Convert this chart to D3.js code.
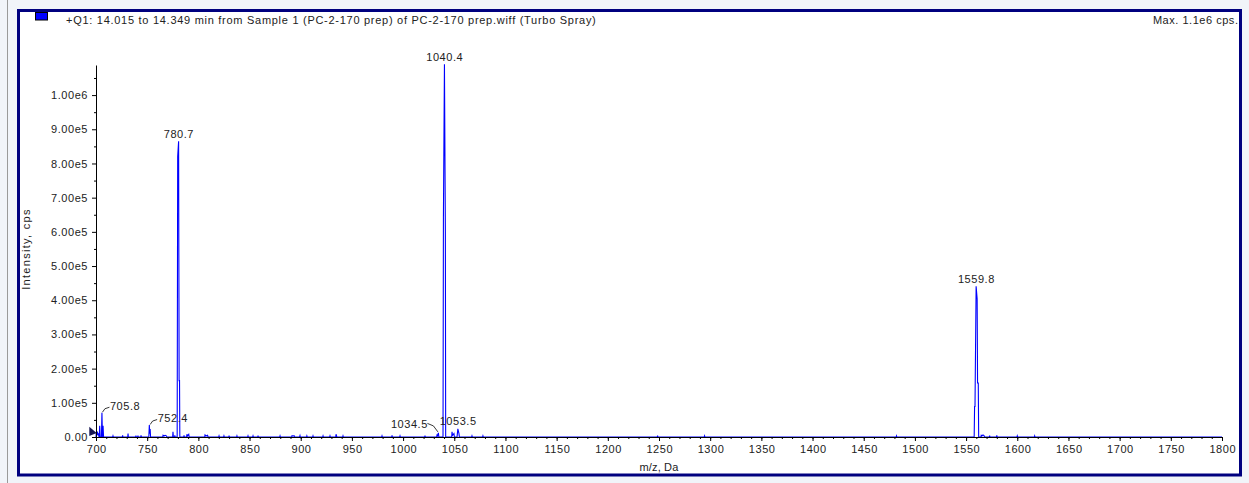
<!DOCTYPE html>
<html><head><meta charset="utf-8">
<script src="https://cdn.jsdelivr.net/npm/d3@7"></script>
<style>
html,body{margin:0;padding:0;background:#f1f4f9;}
svg{display:block;}
text{font-family:"Liberation Sans",Arial,sans-serif;fill:#222;}
</style></head><body>
<svg id="c" width="1249" height="483"></svg>
<script>
// ---------- data ----------
const titleText = "+Q1: 14.015 to 14.349 min from Sample 1 (PC-2-170 prep) of PC-2-170 prep.wiff (Turbo Spray)";
const maxText = "Max. 1.1e6 cps.";
const xTitle = "m/z, Da";
const yTitle = "Intensity, cps";
const xDomain = [700, 1800];
const yDomain = [0, 1088000];
const xTicks = [700,750,800,850,900,950,1000,1050,1100,1150,1200,1250,1300,1350,1400,1450,1500,1550,1600,1650,1700,1750,1800];
const yTicks = [0,100000,200000,300000,400000,500000,600000,700000,800000,900000,1000000];
const yTickLabels = ["0.00","1.00e5","2.00e5","3.00e5","4.00e5","5.00e5","6.00e5","7.00e5","8.00e5","9.00e5","1.00e6"];
const profileMz = [
 700,700.3,700.8,701.3,701.9,702.4,702.9,
 703.2,703.6,704.1,705.3,705.8,706.3,706.5,706.9,707.4,
 716.3,716.6,716.9,725.7,726.0,726.3,731.0,731.3,731.6,738.7,739.0,739.3,740.7,741.0,741.3,743.7,744.0,744.3,
 751.6,752.1,752.5,752.9,753.3,
 765.2,765.5,766.5,767.5,768.5,769.4,774.9,775.2,775.6,776.7,777.0,777.3,
 779.3,779.8,780.7,781.2,781.6,781.9,
 785.7,786.0,786.3,788.5,788.8,789.3,790.6,791.0,806.2,806.5,807.5,809.0,809.4,
 819.9,820.2,820.5,824.7,825.0,825.3,829.7,830.0,830.3,837.4,837.7,838.0,848.2,848.5,848.8,
 853.1,853.4,853.7,858.0,858.3,858.6,879.5,879.8,880.1,891.2,891.5,892.5,893.5,893.9,898.9,899.3,899.6,
 905.7,906.0,906.3,911.7,912.0,912.3,921.5,921.8,922.1,928.3,928.6,928.9,934.2,934.5,935.0,935.3,941.0,941.3,941.6,
 979.1,979.4,979.7,988.9,989.2,989.5,996.7,997.0,997.3,1021.1,1021.4,1021.7,
 1032.8,1033.1,1033.5,1034.5,1034.9,
 1039.0,1039.4,1040.4,1041.3,1041.6,
 1047.5,1047.8,1048.3,1049.7,1050.1,1052.7,1053.1,1053.5,1054.6,1055.0,
 1067.0,1067.3,1067.6,1077.7,1078.0,1078.3,
 1248.3,1248.6,1248.9,1294.2,1294.5,1294.8,1481.7,1482.0,1482.3,
 1557.9,1558.3,1558.7,1559.8,1560.8,1561.2,1561.9,1562.3,
 1564.5,1564.8,1565.5,1566.5,1567.5,1568.0,1572.7,1573.0,1573.3,1579.7,1580.0,1580.3,
 1599.7,1600.0,1600.3,1616.7,1617.0,1617.3,1800
];
const profileIntensity = [
 0,14000,6000,16000,5000,11000,0,
 0,33000,0,0,71000,0,0,33000,0,
 0,3000,0,0,5000,0,0,10000,0,0,4000,0,0,4000,0,0,5000,0,
 0,35000,10000,23000,0,
 0,5000,3000,5000,4000,0,0,15000,0,0,5000,0,
 0,820000,865000,165000,165000,0,
 0,5000,0,0,8000,3000,8000,0,0,6000,3000,5000,0,
 0,3000,0,0,3000,0,0,4000,0,0,3000,0,0,3000,0,
 0,3000,0,0,4000,0,0,3000,0,0,4000,3000,4000,0,0,4000,0,
 0,3000,0,0,3000,0,0,3000,0,0,3000,0,0,8000,3000,0,0,3000,0,
 0,3000,0,0,5000,0,0,3000,0,0,4000,0,
 0,5000,3000,12000,0,
 0,643000,1090000,600000,0,
 0,15000,5000,10000,0,0,12000,24000,10000,0,
 0,3000,0,0,3000,0,
 0,4000,0,0,3000,0,0,3000,0,
 0,89000,89000,441000,404000,158000,158000,0,
 0,5000,3000,6000,4000,0,0,4000,0,0,5000,0,
 0,3000,0,0,3000,0,0
];
const peakLabelMz = [705.8, 752.4, 780.7, 1034.5, 1040.4, 1053.5, 1559.8];
const peakLabelIntensity = [71000, 35000, 865000, 12000, 1090000, 24000, 441000];

// ---------- layout ----------
const svg = d3.select("#c");
const W = 1249, H = 483;
const plot = {left: 96, right: 1222, top: 65, bottom: 437};
const x = d3.scaleLinear().domain(xDomain).range([plot.left, plot.right]);
const y = d3.scaleLinear().domain(yDomain).range([plot.bottom, plot.top]);
const numSpacing = 0.55;

// outer frame
svg.append("line").attr("x1",7.5).attr("x2",7.5).attr("y1",0).attr("y2",H)
  .attr("stroke","#9a9a9a").attr("stroke-width",1);
svg.append("rect").attr("x",18.5).attr("y",10.5).attr("width",1222).attr("height",464.5)
  .attr("fill","#ffffff").attr("stroke","#00007f").attr("stroke-width",3);

// header
svg.append("rect").attr("x",35.5).attr("y",12.5).attr("width",12).attr("height",7.5)
  .attr("fill","#0000ff").attr("stroke","#000").attr("stroke-width",1);
svg.append("text").attr("x",66).attr("y",24).attr("font-size",11)
  .attr("letter-spacing",0.72).text(titleText);
svg.append("text").attr("x",1238.5).attr("y",24).attr("font-size",11).attr("text-anchor","end")
  .attr("letter-spacing",0.53).text(maxText);

// data profile
const pts = profileMz.map((m,i)=>[m, profileIntensity[i]]);
const line = d3.line().x(d=>x(d[0])).y(d=>y(d[1]));
svg.append("path").datum(pts).attr("d",line).attr("fill","none")
  .attr("stroke","#0000ff").attr("stroke-width",1.1).attr("stroke-linejoin","miter");

// off-scale marker at the left edge
svg.append("path").attr("d",`M${x(700)-6.7},${y(0)-10.3}L${x(700)-6.7},${y(0)-1}L${x(700)+0.7},${y(0)-4}Z`)
  .attr("fill","#141450");

// axes
const xAxis = svg.append("g").attr("transform",`translate(0,${plot.bottom})`)
  .call(d3.axisBottom(x).tickValues(xTicks).tickSize(4).tickSizeOuter(0).tickPadding(4).tickFormat(d3.format("d")));
const xMinor = svg.append("g").attr("transform",`translate(0,${plot.bottom})`)
  .call(d3.axisBottom(x).tickValues(d3.range(700,1801,10)).tickSize(2).tickFormat(""));
xMinor.select(".domain").remove();
const yAxis = svg.append("g").attr("transform",`translate(${plot.left},0)`)
  .call(d3.axisLeft(y).tickValues(yTicks).tickSize(4).tickSizeOuter(0).tickPadding(4)
    .tickFormat((d,i)=>yTickLabels[i]));
const yMinor = svg.append("g").attr("transform",`translate(${plot.left},0)`)
  .call(d3.axisLeft(y).tickValues(d3.range(50000,1088000,100000)).tickSize(2).tickFormat(""));
yMinor.select(".domain").remove();
svg.selectAll(".tick line").attr("stroke","#000");
svg.selectAll(".domain").attr("stroke","#000");
svg.selectAll(".tick text").attr("font-size",11).attr("font-family","'Liberation Sans',Arial,sans-serif")
  .attr("fill","#222").attr("letter-spacing",numSpacing);
// compensate trailing letter-spacing on centred x labels
xAxis.selectAll(".tick text").attr("dx", numSpacing/2);

// axis titles
svg.append("text").attr("x",(plot.left+plot.right)/2).attr("y",471).attr("font-size",11)
  .attr("text-anchor","middle").attr("letter-spacing",0.15).text(xTitle);
svg.append("text").attr("transform",`translate(30,249) rotate(-90)`)
  .attr("font-size",11).attr("text-anchor","middle").attr("letter-spacing",1.3).text(yTitle);

// peak labels
const placement = {"705.8":"right","752.4":"right","1034.5":"left"};
peakLabelMz.forEach((m,i)=>{
  const px = x(m), py = y(peakLabelIntensity[i]);
  const lab = m.toFixed(1);
  const p = placement[lab] || "above";
  const t = svg.append("text").attr("font-size",11).attr("letter-spacing",numSpacing).text(lab);
  if (p === "above") {
    t.attr("x",px + numSpacing/2).attr("y",py-3.5).attr("text-anchor","middle");
  } else if (p === "right") {
    svg.append("path").attr("d",`M${px+0.5},${py-0.5}L${px+3},${py-4}L${px+7.5},${py-5.5}`)
      .attr("fill","none").attr("stroke","#222").attr("stroke-width",0.9);
    t.attr("x",px+8).attr("y",py-3);
  } else {
    svg.append("path").attr("d",`M${px-0.5},${py-1}L${px-5},${py-7}L${px-11},${py-9.5}`)
      .attr("fill","none").attr("stroke","#222").attr("stroke-width",0.9);
    t.attr("x",px-10.5).attr("y",py-5).attr("text-anchor","end");
  }
});
</script></body></html>
